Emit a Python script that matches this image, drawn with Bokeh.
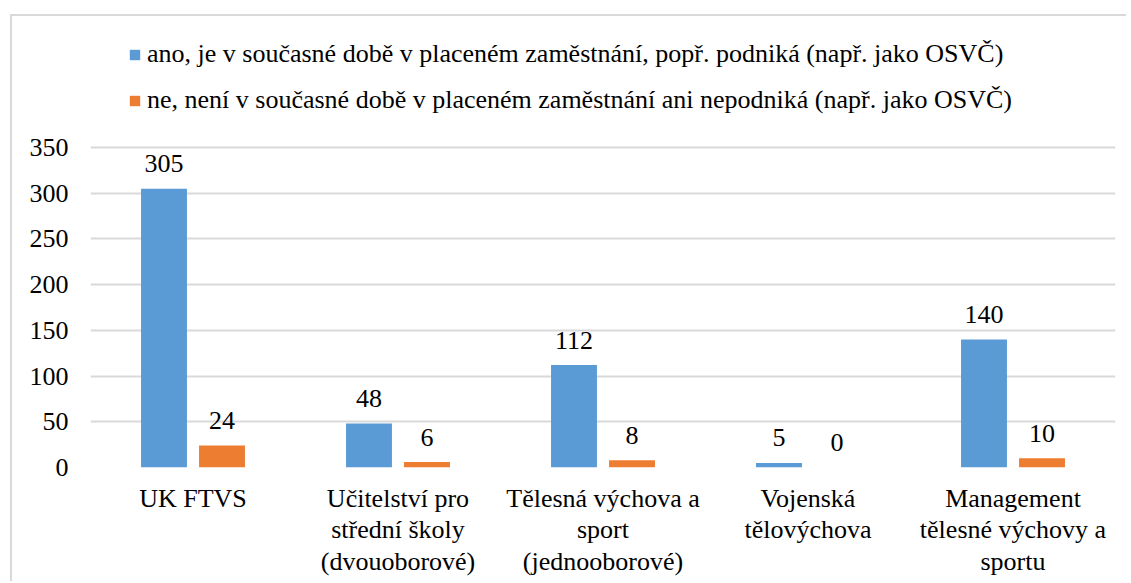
from bokeh.plotting import figure
from bokeh.models import FactorRange, ColumnDataSource, Legend, LegendItem, FixedTicker, Spacer, Range1d
from bokeh.layouts import column, row
from bokeh.transform import dodge
from bokeh.core.properties import value
from bokeh.embed import file_html
from bokeh.resources import INLINE

categories = ["UK FTVS", "Učitelství pro\nstřední školy\n(dvouoborové)",
              "Tělesná výchova a\nsport\n(jednooborové)", "Vojenská\ntělovýchova",
              "Management\ntělesné výchovy a\nsportu"]
ano = [305, 48, 112, 5, 140]
ne = [24, 6, 8, 0, 10]
series_names = ["ano, je v současné době v placeném zaměstnání, popř. podniká (např. jako OSVČ)",
                "ne, není v současné době v placeném zaměstnání ani nepodniká (např. jako OSVČ)"]
y_ticks = [0, 50, 100, 150, 200, 250, 300, 350]

FONT = "Liberation Serif"
FS = "26px"
BLUE = "#5B9BD5"
ORANGE = "#ED7D31"
W = 1114
AXIS_MAX = 350          # top value of the value axis
AXIS_PX = 320           # pixel height from 0 to AXIS_MAX
FRAME_PX = 441          # frame extends above the axis to hold the legend

src = ColumnDataSource(dict(cat=categories, ano=ano, ne=ne,
                            ano_t=[str(v) for v in ano], ne_t=[str(v) for v in ne]))

p = figure(x_range=FactorRange(*categories),
           y_range=Range1d(0, AXIS_MAX * FRAME_PX / AXIS_PX),
           width=W, height=10 + FRAME_PX + 114, output_backend="svg", toolbar_location=None,
           min_border_left=78, min_border_right=11, min_border_top=10, min_border_bottom=114)
p.x_range.range_padding = 0
p.outline_line_color = None

off = 0.1415
w = 0.224
r1 = p.vbar(x=dodge("cat", -off, range=p.x_range), top="ano", width=w, source=src,
            fill_color=BLUE, line_color=None)
r2 = p.vbar(x=dodge("cat", off, range=p.x_range), top="ne", width=w, source=src,
            fill_color=ORANGE, line_color=None)

for col, o in (("ano", -off), ("ne", off)):
    p.text(x=dodge("cat", o, range=p.x_range), y=col, text=col + "_t", source=src,
           text_align="center", text_baseline="alphabetic", y_offset=-25,
           text_font=value(FONT), text_font_size=FS, text_color="#000000")

p.xgrid.grid_line_color = None
p.ygrid.grid_line_color = "#d9d9d9"
p.ygrid.grid_line_width = 2
p.yaxis.ticker = FixedTicker(ticks=y_ticks)
for ax in (p.xaxis, p.yaxis):
    ax.axis_line_color = None
    ax.major_tick_line_color = None
    ax.minor_tick_line_color = None
    ax.major_label_text_font = FONT
    ax.major_label_text_font_size = FS
    ax.major_label_text_color = "#000000"
p.yaxis.major_label_standoff = 16
p.xaxis.major_label_standoff = 10
p.xaxis.major_label_text_line_height = 1.1

legend = Legend(items=[LegendItem(label=series_names[0], renderers=[r1]),
                       LegendItem(label=series_names[1], renderers=[r2])],
                location=(38, 352), orientation="vertical",
                label_text_font=FONT, label_text_font_size=FS, label_text_color="#000000",
                glyph_width=13, glyph_height=13, label_standoff=6, spacing=16,
                label_height=30, padding=0, margin=0,
                border_line_color=None, background_fill_alpha=0)
p.add_layout(legend, "center")

boxed = column(p, styles={"border-left": "2px solid #d9d9d9",
                          "border-top": "2px solid #d9d9d9"})
layout = column(Spacer(height=14), row(Spacer(width=10), boxed))

open("out.html", "w").write(file_html(layout, INLINE))
